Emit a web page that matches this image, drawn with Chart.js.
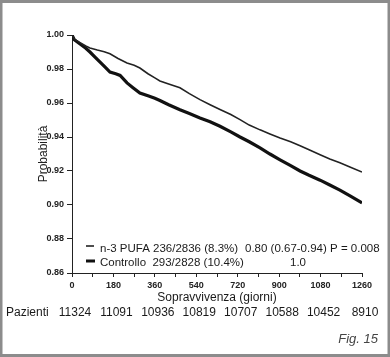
<!DOCTYPE html>
<html><head><meta charset="utf-8">
<script src="https://cdn.jsdelivr.net/npm/chart.js@4/dist/chart.umd.min.js"></script>
<style>html,body{margin:0;padding:0;background:#fff}canvas{display:block}</style>
</head><body>
<canvas id="c" width="390" height="357"></canvas>
<script>
const pufaDays = [0,10,35,60,78,110,140,165,200,239,270,295,330,360,382,420,469,510,556,600,643,690,730,770,817,860,904,950,991,1030,1078,1120,1164,1210,1260];
const pufaSurv = [1.000,0.9975,0.9955,0.9935,0.9924,0.9912,0.9902,0.9890,0.9862,0.9835,0.9822,0.9806,0.9772,0.9748,0.9730,0.9712,0.9690,0.9655,0.9620,0.9590,0.9562,0.9532,0.9502,0.9470,0.9442,0.9418,0.9394,0.9372,0.9349,0.9325,0.9296,0.9270,0.9248,0.9222,0.9194];
const ctrlDays = [0,10,35,60,78,100,122,145,165,190,209,239,265,295,330,360,382,420,469,510,556,600,643,690,730,770,817,860,904,950,991,1030,1078,1120,1164,1210,1260];
const ctrlSurv = [1.000,0.9972,0.9947,0.9922,0.9900,0.9870,0.9841,0.9810,0.9782,0.9772,0.9762,0.9718,0.9690,0.9659,0.9642,0.9628,0.9615,0.9590,0.9560,0.9538,0.9512,0.9490,0.9463,0.9430,0.9400,0.9372,0.9336,0.9300,0.9266,0.9232,0.9200,0.9175,0.9146,0.9118,0.9088,0.9052,0.9012];
const xTicks = [0,180,360,540,720,900,1080,1260];
const patients = ["11324","11091","10936","10819","10707","10588","10452","8910"];
const legendRows = [
  ["n-3 PUFA 236/2836 (8.3%)", "0.80 (0.67-0.94) P = 0.008"],
  ["Controllo  293/2828 (10.4%)", "1.0"]
];
const yTitle = "Probabilità";
const xTitle = "Sopravvivenza (giorni)";
const rowLabel = "Pazienti";
const figLabel = "Fig. 15";

const toPts = (d, v) => d.map((x, i) => ({x: x, y: v[i]}));

const extras = {
  id: 'extras',
  beforeDraw(chart) {
    const ctx = chart.ctx;
    ctx.save();
    ctx.fillStyle = '#fff';
    ctx.fillRect(0, 0, chart.width, chart.height);
    ctx.restore();
  },
  afterDraw(chart) {
    const ctx = chart.ctx;
    const xs = chart.scales.x;
    ctx.save();
    ctx.strokeStyle = '#8c8c8c';
    ctx.lineWidth = 3;
    ctx.strokeRect(1, 1.5, chart.width - 2, chart.height - 3);
    ctx.fillStyle = '#1a1a1a';
    const lx = xs.left + 14;
    ctx.strokeStyle = '#222';
    ctx.lineWidth = 1.6;
    ctx.beginPath(); ctx.moveTo(lx, 246); ctx.lineTo(lx + 8, 246); ctx.stroke();
    ctx.strokeStyle = '#111';
    ctx.lineWidth = 3;
    ctx.beginPath(); ctx.moveTo(lx, 261); ctx.lineTo(lx + 9, 261); ctx.stroke();
    ctx.font = '11.5px "Liberation Sans", Arial, sans-serif';
    ctx.textBaseline = 'middle';
    ctx.textAlign = 'left';
    ctx.fillText(legendRows[0][0], 100, 249);
    ctx.fillText(legendRows[0][1], 245, 249);
    ctx.fillText(legendRows[1][0], 100, 263);
    ctx.fillText(legendRows[1][1], 290, 263);
    ctx.font = '12px "Liberation Sans", Arial, sans-serif';
    ctx.textAlign = 'center';
    ctx.fillText(xTitle, (xs.left + xs.right) / 2, 298);
    ctx.textAlign = 'left';
    ctx.fillText(rowLabel, 6, 313);
    ctx.textAlign = 'center';
    xTicks.forEach((t, i) => {
      ctx.fillText(patients[i], xs.getPixelForValue(t) + 3, 313);
    });
    ctx.font = 'italic 13px "Liberation Sans", Arial, sans-serif';
    ctx.fillStyle = '#444';
    ctx.textAlign = 'right';
    ctx.fillText(figLabel, 378, 339);
    ctx.restore();
  }
};

new Chart(document.getElementById('c'), {
  type: 'line',
  data: {
    datasets: [
      {label: 'n-3 PUFA', data: toPts(pufaDays, pufaSurv), borderColor: '#222', borderWidth: 1.6, pointRadius: 0, tension: 0, fill: false},
      {label: 'Controllo', data: toPts(ctrlDays, ctrlSurv), borderColor: '#111', borderWidth: 3.2, pointRadius: 0, tension: 0, fill: false}
    ]
  },
  options: {
    responsive: false,
    animation: false,
    devicePixelRatio: 1,
    layout: {padding: {top: 35, right: 28, bottom: 0, left: 0}},
    plugins: {legend: {display: false}, tooltip: {enabled: false}},
    scales: {
      x: {
        type: 'linear', min: 0, max: 1260,
        afterFit(s) { s.height = 84; },
        afterBuildTicks(s) { const t = []; for (let v = 0; v <= 1260; v += 90) t.push({value: v}); s.ticks = t; },
        ticks: {
          font: {size: 9, weight: 'bold', family: '"Liberation Sans", Arial, sans-serif'}, color: '#222',
          maxRotation: 0, autoSkip: false, padding: 3,
          callback: (v) => (xTicks.includes(v) ? String(v) : '')
        },
        grid: {drawOnChartArea: false, drawTicks: true, tickLength: 4, color: '#222'},
        border: {display: true, color: '#222', width: 1}
      },
      y: {
        min: 0.86, max: 1.00,
        afterFit(s) { s.width = 72; },
        ticks: {
          stepSize: 0.02,
          font: {size: 9, weight: 'bold', family: '"Liberation Sans", Arial, sans-serif'}, color: '#222',
          padding: 3,
          callback: (v) => Number(v).toFixed(2)
        },
        grid: {drawOnChartArea: false, drawTicks: true, tickLength: 5, color: '#222'},
        border: {display: true, color: '#222', width: 1},
        title: {display: true, text: yTitle, color: '#222', font: {size: 12, family: '"Liberation Sans", Arial, sans-serif'}, padding: {top: 36, bottom: 0}}
      }
    }
  },
  plugins: [extras]
});
</script>
</body></html>
